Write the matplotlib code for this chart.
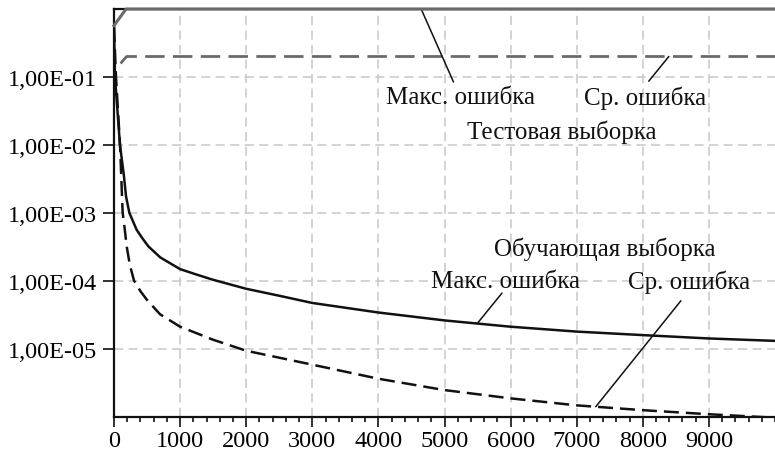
import numpy as np
import matplotlib
matplotlib.use("Agg")
import matplotlib.pyplot as plt
from matplotlib.ticker import FixedLocator, MultipleLocator

plt.rcParams['font.family'] = ['Liberation Serif', 'DejaVu Serif']

# Training set errors
train_x = [0, 15, 90, 150, 182, 232, 343, 430, 520, 700, 1000, 1250, 1500,
           2000, 2500, 3000, 4000, 5000, 6000, 7000, 8000, 9000, 10000]
train_max = [0.54, 1e-1, 1e-2, 3.5e-3, 1.74e-3, 1e-3, 5.6e-4, 4.2e-4, 3.2e-4,
             2.2e-4, 1.48e-4, 1.23e-4, 1.03e-4, 7.6e-5, 6.0e-5, 4.7e-5,
             3.4e-5, 2.6e-5, 2.1e-5, 1.78e-5, 1.58e-5, 1.41e-5, 1.3e-5]

train_mean_x = [0, 30, 91, 131, 160, 192, 240, 303, 400, 500, 697, 1000,
                1500, 2000, 3000, 4000, 5000, 6000, 7000, 8000, 9000, 10000]
train_mean = [0.54, 1e-1, 1e-2, 1e-3, 6e-4, 3.2e-4, 1.7e-4, 1e-4, 7e-5,
              5.2e-5, 3.2e-5, 2.1e-5, 1.35e-5, 9.3e-6, 5.8e-6, 3.6e-6,
              2.45e-6, 1.85e-6, 1.46e-6, 1.24e-6, 1.08e-6, 0.96e-6]

# Test set errors
test_x = [0, 182, 10000]
test_max = [0.57, 1.0, 1.0]
test_mean_x = [100, 190, 10000]
test_mean = [0.158, 0.2, 0.2]

y_ticks = [1e-1, 1e-2, 1e-3, 1e-4, 1e-5]
y_labels = ['1,00E-01', '1,00E-02', '1,00E-03', '1,00E-04', '1,00E-05']
x_ticks = list(range(0, 10000, 1000))

fig = plt.figure(figsize=(7.75, 4.56), dpi=100)
ax = fig.add_axes([0.1471, 0.0844, 0.8529, 0.8936])

ax.set_yscale('log')
ax.set_xlim(0, 10000)
ax.set_ylim(1e-6, 1.0)

grid_kw = dict(color='#c8c8c8', lw=1.1, dashes=(6, 3.5), zorder=0)
for xv in x_ticks[1:]:
    ax.axvline(xv, **grid_kw)
for yv in y_ticks:
    ax.axhline(yv, **grid_kw)

gray = '#6a6a6a'
ax.plot(test_x, test_max, color=gray, lw=2.2, clip_on=False, zorder=4)
ax.plot(test_mean_x, test_mean, color=gray, lw=2.0, dashes=(7, 3), zorder=3)
ax.plot(train_x, train_max, color='#111111', lw=1.8, zorder=3)
ax.plot(train_mean_x, train_mean, color='#111111', lw=1.8, dashes=(6, 2.8), zorder=3)

ax.yaxis.set_major_locator(FixedLocator(y_ticks))
ax.yaxis.set_minor_locator(FixedLocator([]))
ax.set_yticklabels(y_labels)
ax.xaxis.set_major_locator(FixedLocator(x_ticks))
ax.xaxis.set_minor_locator(MultipleLocator(200))

ax.tick_params(axis='y', which='major', direction='out', length=8, width=1.2,
               labelsize=17.5, pad=4, color='#111111')
ax.tick_params(axis='x', which='major', direction='out', length=7.5, width=1.2,
               labelsize=17.5, pad=2, color='#111111')
ax.tick_params(axis='x', which='minor', direction='out', length=3.8, width=1.2,
               color='#111111')

for side in ['left', 'bottom', 'top']:
    ax.spines[side].set_linewidth(1.6)
    ax.spines[side].set_color('#111111')
ax.spines['right'].set_visible(False)

fs = 18
line_kw = dict(arrowprops=dict(arrowstyle='-', color='#111111', lw=1.1,
                               shrinkA=0, shrinkB=0))


def on_curve(xs, ys, xv):
    return 10 ** np.interp(xv, xs, np.log10(ys))


# leader lines
ax.annotate('', xy=(4647, on_curve(test_x, test_max, 4647)), xycoords='data',
            xytext=(0.5136, 0.821), textcoords='axes fraction', **line_kw)
ax.annotate('', xy=(8394, on_curve(test_mean_x, test_mean, 8394)), xycoords='data',
            xytext=(0.809, 0.823), textcoords='axes fraction', **line_kw)
ax.annotate('', xy=(5495, on_curve(train_x, train_max, 5495)), xycoords='data',
            xytext=(0.587, 0.303), textcoords='axes fraction', **line_kw)
ax.annotate('', xy=(7288, on_curve(train_mean_x, train_mean, 7288)), xycoords='data',
            xytext=(0.8576, 0.284), textcoords='axes fraction', **line_kw)

txt_kw = dict(transform=ax.transAxes, ha='center', va='center', fontsize=fs,
              color='#111111')
ax.text(0.524, 0.783, 'Макс. ошибка', **txt_kw)
ax.text(0.803, 0.783, 'Ср. ошибка', **txt_kw)
ax.text(0.677, 0.701, 'Тестовая выборка', **txt_kw)
ax.text(0.742, 0.413, 'Обучающая выборка', **txt_kw)
ax.text(0.592, 0.333, 'Макс. ошибка', **txt_kw)
ax.text(0.870, 0.333, 'Ср. ошибка', **txt_kw)

fig.savefig('out.png', dpi=100)
